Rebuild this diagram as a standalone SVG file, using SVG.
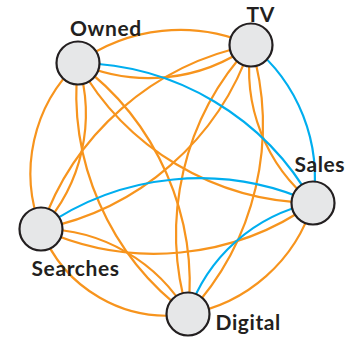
<svg xmlns="http://www.w3.org/2000/svg" width="348" height="339" viewBox="0 0 348 339">
<style>
.e{fill:none;stroke-width:2.2}
.o{stroke:#F7941D}
.b{stroke:#00AEEF}
.n circle{fill:#E6E7E8;stroke:#231F20;stroke-width:2.2}
.n text{font-family:Lato,"Liberation Sans",sans-serif;font-weight:700;font-size:21px;letter-spacing:0.6px;fill:#231F20}
</style>
<rect width="348" height="339" fill="#fff"/>
<g id="connectors">
<path class="e o" d="M78,63 A174,174 0 0 1 251,45"/>
<path class="e o" d="M78,63 A174,174 0 0 0 251,45"/>
<path class="e o" d="M78,63 A273,273 0 0 0 313,203"/>
<path class="e o" d="M78,63 A152,152 0 0 0 41,229"/>
<path class="e o" d="M78,63 A170,170 0 0 1 41,229"/>
<path class="e o" d="M78,63 A274,274 0 0 0 188,314"/>
<path class="e o" d="M78,63 A274,274 0 0 1 188,314"/>
<path class="e o" d="M251,45 A170,170 0 0 0 313,203"/>
<path class="e o" d="M251,45 A279,279 0 0 0 41,229"/>
<path class="e o" d="M251,45 A279,279 0 0 1 41,229"/>
<path class="e o" d="M251,45 A276,276 0 0 0 188,314"/>
<path class="e o" d="M251,45 A276,276 0 0 1 188,314"/>
<path class="e o" d="M41,229 A273,273 0 0 0 313,203"/>
<path class="e o" d="M188,314 A160,160 0 0 0 313,203"/>
<path class="e o" d="M41,229 A135,135 0 0 0 188,314"/>
<path class="e o" d="M41,229 A170,170 0 0 1 188,314"/>
<path class="e b" d="M78,63 A273,273 0 0 1 313,203"/>
<path class="e b" d="M251,45 A170,170 0 0 1 313,203"/>
<path class="e b" d="M41,229 A273,273 0 0 1 313,203"/>
<path class="e b" d="M188,314 A167,167 0 0 1 313,203"/>
</g>
<g id="owned" class="n"><circle cx="78" cy="63" r="21.5"/><text x="70" y="36">Owned</text></g>
<g id="tv" class="n"><circle cx="251" cy="45" r="21.5"/><text x="246.5" y="22">TV</text></g>
<g id="sales" class="n"><circle cx="313" cy="203" r="21.5"/><text x="294.5" y="172">Sales</text></g>
<g id="searches" class="n"><circle cx="41" cy="229" r="21.5"/><text x="31.5" y="276">Searches</text></g>
<g id="digital" class="n"><circle cx="188" cy="314" r="21.5"/><text x="215.5" y="330">Digital</text></g>
</svg>
